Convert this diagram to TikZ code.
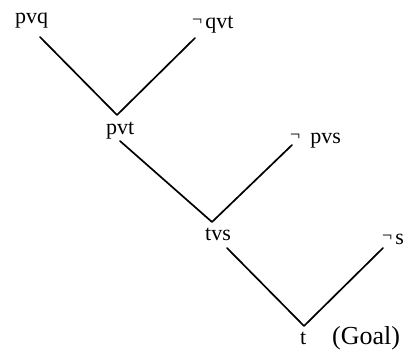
\documentclass[tikz,border=0pt]{standalone}
\usepackage{fontspec}
\setmainfont{Liberation Serif}
\newcommand\ngsym{\raisebox{2.5pt}{\fontsize{18}{18}\selectfont ¬}}
\begin{document}
\begin{tikzpicture}[x=1pt,y=-1pt,
  lbl/.style={anchor=base west,inner sep=0pt,font=\fontsize{22}{26}\selectfont},
  big/.style={lbl,font=\fontsize{26}{30}\selectfont},
  edge/.style={draw=black,line width=1.7pt,line cap=round,line join=round}]
\useasboundingbox (0,0) rectangle (405,351);
\clip (0,0) rectangle (405,351);
\fill[white] (0,0) rectangle (405,351);
% labels
\node[lbl] (pvq) at (15,23) {pvq};
\node[lbl] (nqvt) at (192,28) {\ngsym\hspace{3pt}qvt};
\node[lbl] (pvt) at (106,134) {pvt};
\node[lbl] (npvs) at (290,143) {\ngsym\hspace{10pt}pvs};
\node[lbl] (tvs) at (205,240) {tvs};
\node[lbl] (ns) at (382,244) {\ngsym\hspace{3pt}s};
\node[lbl] (t) at (300,344) {t};
\node[big] (goal) at (332,344) {(Goal)};
% connector ends
\coordinate (a1) at (40,37);
\coordinate (v1) at (117,115);
\coordinate (b1) at (195,38);
\coordinate (a2) at (120,141);
\coordinate (v2) at (212,222);
\coordinate (b2) at (292,145);
\coordinate (a3) at (227,248);
\coordinate (v3) at (304,326);
\coordinate (b3) at (383,248);
\draw[edge] (a1) -- (v1) -- (b1);
\draw[edge] (a2) -- (v2) -- (b2);
\draw[edge] (a3) -- (v3) -- (b3);
\end{tikzpicture}
\end{document}
